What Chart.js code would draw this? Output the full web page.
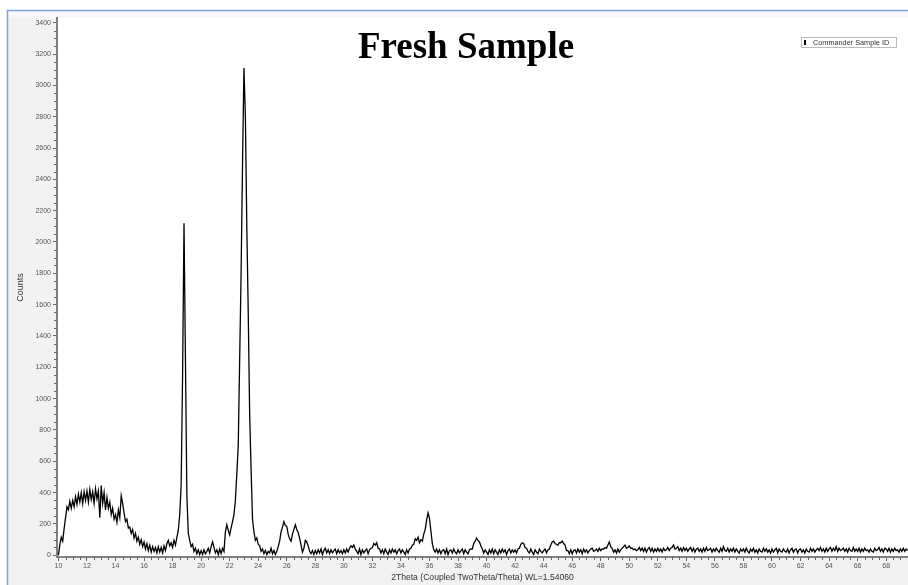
<!DOCTYPE html>
<html>
<head>
<meta charset="utf-8">
<script src="https://cdn.jsdelivr.net/npm/chart.js@4.4.1/dist/chart.umd.min.js"></script>
<style>
html,body{margin:0;padding:0;background:#fff;}
canvas{display:block;}
</style>
</head>
<body>
<canvas id="c" width="908" height="585"></canvas>
<script>
const chartTitle = 'Fresh Sample';
const seriesLabel = 'Commander Sample ID';
const xAxisTitle = '2Theta (Coupled TwoTheta/Theta) WL=1.54060';
const yAxisTitle = 'Counts';

// 2Theta sampling of the scan (degrees)
const angleStart = 10.0;
const angleStep = 0.1;

// Counts, one row per degree (10.0 .. 69.5)
const counts = [
  0, 70, 115, 90, 170, 240, 310, 290, 345, 300,
  350, 310, 375, 325, 390, 340, 400, 330, 405, 350,
  410, 340, 420, 355, 405, 330, 425, 360, 410, 240,
  445, 330, 400, 290, 370, 300, 340, 260, 300, 230,
  260, 210, 290, 240, 380, 330, 270, 215, 230, 175,
  180, 140, 165, 110, 140, 90, 115, 70, 100, 55,
  85, 40, 75, 30, 65, 20, 55, 25, 50, 15,
  55, 20, 50, 15, 60, 30, 75, 95, 60, 80,
  50, 95, 65, 115, 160, 260, 450, 1150, 2120, 1250,
  380, 140, 95, 55, 70, 25, 45, 10, 35, 5,
  30, 5, 35, 10, 25, 45, 15, 55, 85, 50,
  15, 35, 5, 40, 10, 45, 25, 150, 195, 160,
  130, 175, 215, 260, 350, 520, 700, 1250, 1800, 2500,
  3110, 2800, 2100, 1550, 900, 550, 230, 150, 95, 110,
  70, 60, 25, 40, 10, 30, 5, 25, 15, 45,
  10, 30, 5, 25, 55, 90, 150, 180, 215, 190,
  185, 135, 105, 90, 135, 165, 195, 165, 145, 110,
  65, 20, 45, 95, 85, 60, 25, 10, 30, 5,
  30, 10, 35, 15, 40, 5, 30, 45, 15, 35,
  10, 35, 15, 30, 40, 10, 35, 15, 30, 10,
  35, 15, 40, 20, 45, 60, 50, 65, 40, 25,
  10, 40, 5, 35, 15, 30, 40, 10, 35, 45,
  50, 75, 65, 80, 45, 40, 15, 35, 10, 40,
  20, 5, 35, 15, 40, 20, 35, 10, 30, 40,
  15, 35, 20, 5, 35, 15, 40, 45, 65, 70,
  105, 95, 115, 80, 100, 90, 135, 165, 225, 270,
  235, 155, 75, 35, 20, 40, 15, 35, 10, 30,
  35, 10, 40, 5, 30, 35, 15, 40, 20, 10,
  35, 15, 30, 40, 10, 35, 20, 10, 35, 40,
  40, 75, 90, 110, 95, 85, 60, 40, 15, 35,
  20, 5, 35, 15, 40, 10, 35, 20, 5, 35,
  15, 40, 20, 35, 5, 30, 40, 15, 35, 20,
  35, 15, 40, 45, 70, 80, 75, 50, 45, 25,
  15, 40, 20, 5, 35, 20, 10, 40, 25, 15,
  30, 40, 15, 35, 40, 65, 85, 90, 75, 70,
  65, 80, 80, 90, 75, 65, 30, 30, 10, 35,
  10, 30, 35, 15, 40, 20, 35, 10, 40, 20,
  35, 15, 30, 40, 45, 25, 30, 40, 25, 45,
  30, 40, 40, 50, 45, 65, 85, 55, 45, 20,
  35, 15, 40, 20, 35, 45, 55, 65, 45, 50,
  60, 45, 45, 35, 40, 30, 35, 50, 30, 45,
  25, 45, 20, 40, 50, 25, 45, 20, 40, 25,
  45, 25, 40, 20, 45, 30, 35, 50, 30, 45,
  50, 65, 40, 45, 55, 30, 45, 25, 50, 30,
  45, 25, 40, 50, 25, 45, 20, 40, 45, 25,
  40, 20, 45, 25, 50, 30, 35, 45, 20, 40,
  25, 45, 30, 20, 45, 25, 55, 30, 25, 45,
  20, 40, 25, 45, 20, 40, 25, 15, 40, 25,
  40, 20, 45, 25, 15, 40, 25, 45, 20, 35,
  15, 40, 25, 20, 45, 25, 40, 20, 35, 15,
  40, 20, 35, 45, 15, 40, 25, 20, 40, 25,
  20, 40, 15, 35, 45, 20, 35, 40, 15, 35,
  40, 20, 35, 15, 40, 25, 20, 45, 25, 40,
  20, 35, 45, 30, 50, 25, 40, 20, 45, 25,
  40, 50, 25, 45, 30, 55, 25, 45, 30, 35,
  45, 25, 40, 20, 45, 30, 25, 50, 25, 40,
  25, 45, 20, 40, 25, 45, 30, 35, 20, 40,
  25, 20, 45, 30, 35, 50, 25, 40, 20, 45,
  40, 25, 45, 20, 40, 25, 45, 30, 35, 20,
  40, 25, 45, 25, 40, 30
];

const xTickLabels = [10,12,14,16,18,20,22,24,26,28,30,32,34,36,38,40,42,44,46,48,50,52,54,56,58,60,62,64,66,68];
const yTickLabels = [0,200,400,600,800,1000,1200,1400,1600,1800,2000,2200,2400,2600,2800,3000,3200,3400];

const points = counts.map((v, i) => ({ x: +(angleStart + i * angleStep).toFixed(2), y: v }));

const framePlugin = {
  id: 'frame',
  beforeDraw(chart) {
    const ctx = chart.ctx;
    const a = chart.chartArea;
    ctx.save();
    ctx.fillStyle = '#ffffff';
    ctx.fillRect(0, 0, chart.width, chart.height);
    ctx.fillStyle = '#f2f2f2';
    ctx.fillRect(8, 11, chart.width - 8, chart.height - 11);
    ctx.fillStyle = '#f7f7f9';
    ctx.fillRect(8, 11, chart.width - 8, a.top - 11);
    ctx.fillStyle = '#ffffff';
    ctx.fillRect(a.left, a.top, a.right - a.left, a.bottom - a.top);
    ctx.strokeStyle = '#7da4da';
    ctx.lineWidth = 1.5;
    ctx.beginPath();
    ctx.moveTo(7.5, chart.height);
    ctx.lineTo(7.5, 10.5);
    ctx.lineTo(chart.width, 10.5);
    ctx.stroke();
    ctx.restore();
  },
  afterDraw(chart) {
    const ctx = chart.ctx;
    const a = chart.chartArea;
    const xs = chart.scales.x, ys = chart.scales.y;
    ctx.save();
    // minor ticks
    ctx.strokeStyle = '#666';
    ctx.lineWidth = 1;
    ctx.beginPath();
    for (let v = 50; v < 3430; v += 50) {
      if (v % 200 === 0) continue;
      const py = Math.round(ys.getPixelForValue(v)) + 0.5;
      ctx.moveTo(a.left - 3, py);
      ctx.lineTo(a.left, py);
    }
    for (let v = 10.5; v < 69.5; v += 0.5) {
      if (Math.abs(v % 2) < 1e-6) continue;
      const px = Math.round(xs.getPixelForValue(v)) + 0.5;
      ctx.moveTo(px, a.bottom);
      ctx.lineTo(px, a.bottom + 3);
    }
    ctx.stroke();
    // title
    ctx.fillStyle = '#000';
    ctx.font = 'bold 37px "Liberation Serif", "Times New Roman", serif';
    ctx.textAlign = 'center';
    ctx.textBaseline = 'alphabetic';
    ctx.fillText(chartTitle, 466, 58);
    // legend box
    ctx.fillStyle = '#ffffff';
    ctx.fillRect(801, 37, 96, 11);
    ctx.strokeStyle = '#bbbbbb';
    ctx.strokeRect(801.5, 37.5, 95, 10);
    ctx.fillStyle = '#000';
    ctx.fillRect(804, 40, 2, 5);
    ctx.fillStyle = '#333';
    ctx.font = '7.3px "Liberation Sans", Arial, sans-serif';
    ctx.textAlign = 'left';
    ctx.textBaseline = 'middle';
    ctx.fillText(chart.data.datasets[0].label, 813, 42.8);
    ctx.restore();
  }
};

const tickFont = { family: '"Liberation Sans", Arial, sans-serif', size: 7 };

new Chart(document.getElementById('c'), {
  type: 'line',
  data: {
    datasets: [{
      label: seriesLabel,
      data: points,
      borderColor: '#000000',
      borderWidth: 1.3,
      pointRadius: 0,
      tension: 0,
      fill: false
    }]
  },
  options: {
    responsive: false,
    animation: false,
    devicePixelRatio: 1,
    layout: { padding: { left: 15, top: 18, right: 0, bottom: 0 } },
    plugins: {
      legend: { display: false },
      title: { display: false },
      tooltip: { enabled: false }
    },
    scales: {
      x: {
        type: 'linear',
        min: 9.9,
        max: 69.53,
        afterBuildTicks(scale) { scale.ticks = xTickLabels.map(v => ({ value: v })); },
        afterFit(scale) { scale.height = 28; scale.paddingLeft = 0; scale.paddingRight = 0; },
        ticks: { autoSkip: false, maxRotation: 0, color: '#555', font: tickFont, padding: 1, callback: v => String(v) },
        grid: { drawOnChartArea: false, drawTicks: true, tickLength: 4, color: '#666' },
        border: { display: true, color: '#808080', width: 2 },
        title: { display: true, text: xAxisTitle, color: '#333', font: { family: '"Liberation Sans", Arial, sans-serif', size: 8.6 }, padding: { top: 0, bottom: 2 } }
      },
      y: {
        type: 'linear',
        min: -11,
        max: 3430,
        afterBuildTicks(scale) { scale.ticks = yTickLabels.map(v => ({ value: v })); },
        afterFit(scale) { scale.width = 42; scale.paddingTop = 0; scale.paddingBottom = 0; },
        ticks: { autoSkip: false, color: '#555', font: tickFont, padding: 2, callback: v => String(v) },
        grid: { drawOnChartArea: false, drawTicks: true, tickLength: 4, color: '#666' },
        border: { display: true, color: '#808080', width: 2 },
        title: { display: true, text: yAxisTitle, color: '#333', font: { family: '"Liberation Sans", Arial, sans-serif', size: 9 }, padding: { top: 0, bottom: 0 } }
      }
    }
  },
  plugins: [framePlugin]
});
</script>
</body>
</html>
